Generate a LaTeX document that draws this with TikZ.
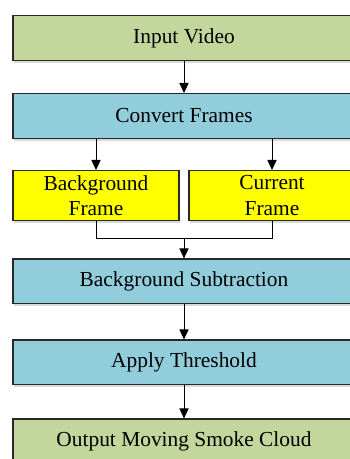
\documentclass[tikz,border=0pt]{standalone}
\usepackage{fontspec}
\setmainfont{Liberation Serif}
\usepackage{xcolor}
\definecolor{StageGreen}{RGB}{195,214,155}
\definecolor{StageBlue}{RGB}{146,205,220}
\definecolor{StageYellow}{RGB}{255,255,0}
\definecolor{EdgeGray}{RGB}{40,40,40}
\usepackage{tikz}
\usetikzlibrary{
    arrows.meta,
    positioning,
    calc,
    shadows
}

\begin{document}
\begin{tikzpicture}[
    node distance=16pt,
%
    box/.style={
        draw=EdgeGray,
        line width=0.7pt,
        fill=StageBlue,
        minimum width=171pt,
        minimum height=22.3pt,
        inner sep=1pt,
        align=center,
        font=\fontsize{10.7}{12.8}\selectfont,
        drop shadow={shadow xshift=0.4pt,shadow yshift=-1.2pt,opacity=0.3}
    },
%
    terminal/.style={
        box,
        fill=StageGreen
    },
%
    framebox/.style={
        box,
        fill=StageYellow,
        minimum width=83pt,
        minimum height=25pt
    },
%
    arrow/.style={
        -{Triangle[length=5pt,width=4.6pt]},
        line width=0.5pt,
        color=black
    },
%
    link/.style={
        line width=0.5pt,
        color=black
    }
]
\useasboundingbox (0,0) rectangle (174.5pt,-229.5pt);
%
% Frame extraction: the video is split into two frames.
%
\node[terminal] (video) at (92pt,-19pt) {Input Video};
\node[
    box,
    below=16pt of video
] (convert) {Convert Frames};
\node[
    framebox,
    below=15.5pt of convert.south west,
    anchor=north west
] (bgframe) {
    Background\\
    Frame
};
\node[
    framebox,
    below=15.5pt of convert.south east,
    anchor=north east
] (curframe) {
    Current\\
    Frame
};
\draw[arrow] (video) -- (convert);
\draw[arrow] (convert.south -| bgframe) -- (bgframe);
\draw[arrow] (convert.south -| curframe) -- (curframe);
%
% Both frames meet in the subtraction step.
%
\coordinate (split) at (bgframe.south -| convert.south);
\coordinate[below=8.5pt of split] (join);
\node[
    box,
    below=10pt of join
] (subtract) {Background Subtraction};
\node[
    box,
    below=17.5pt of subtract
] (threshold) {Apply Threshold};
\node[
    terminal,
    below=16.5pt of threshold
] (smoke) {Output Moving Smoke Cloud};
\draw[link] (bgframe.south) |- (join) -| (curframe.south);
\draw[arrow] (join) -- (subtract);
\draw[arrow] (subtract) -- (threshold);
\draw[arrow] (threshold) -- (smoke);
%
\end{tikzpicture}
\end{document}
